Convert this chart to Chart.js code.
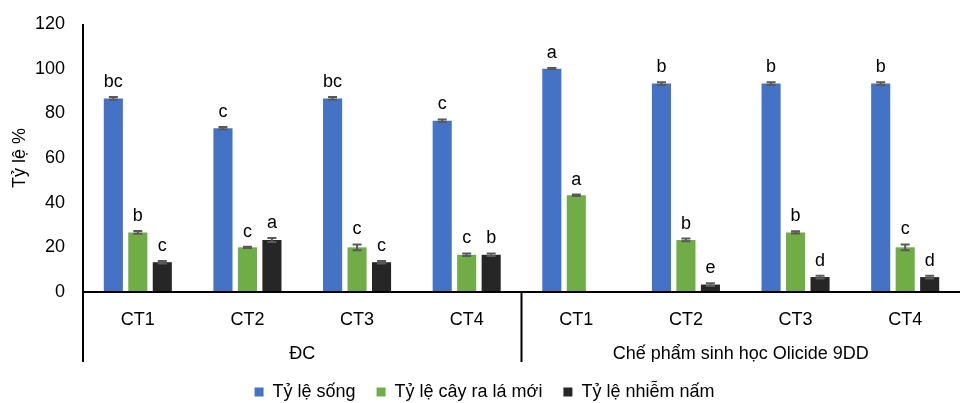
<!DOCTYPE html>
<html>
<head>
<meta charset="utf-8">
<script src="https://cdn.jsdelivr.net/npm/chart.js@4/dist/chart.umd.min.js"></script>
<style>
  html, body { margin: 0; padding: 0; background: #fff; }
  #wrap { width: 960px; height: 403px; }
</style>
</head>
<body>
<div id="wrap"><canvas id="c" width="960" height="403"></canvas></div>
<script>
const categories = ['CT1', 'CT2', 'CT3', 'CT4', 'CT1', 'CT2', 'CT3', 'CT4'];
const groups = ['ĐC', 'Chế phẩm sinh học Olicide 9DD'];
const seriesNames = ['Tỷ lệ sống', 'Tỷ lệ cây ra lá mới', 'Tỷ lệ nhiễm nấm'];

const songValues   = [86.67, 73.33, 86.67, 76.67, 100, 93.33, 93.33, 93.33];
const laMoiValues  = [26.67, 20.0, 20.0, 16.67, 43.33, 23.33, 26.67, 20.0];
const namValues    = [13.33, 23.33, 13.33, 16.67, 0, 3.33, 6.67, 6.67];

const songErrors   = [0.6, 0.6, 0.6, 0.6, 0.3, 0.6, 0.6, 0.6];
const laMoiErrors  = [0.6, 0.3, 1.3, 0.6, 0.3, 0.6, 0.5, 1.3];
const namErrors    = [0.6, 0.9, 0.6, 0.6, 0, 0.6, 0.6, 0.6];

const songLetters  = ['bc', 'c', 'bc', 'c', 'a', 'b', 'b', 'b'];
const laMoiLetters = ['b', 'c', 'c', 'c', 'a', 'b', 'b', 'c'];
const namLetters   = ['c', 'a', 'c', 'b', '', 'e', 'd', 'd'];

const yTicks = [0, 20, 40, 60, 80, 100, 120];

const FONT = "'Liberation Sans', Arial, sans-serif";

const errorPlugin = {
  id: 'errorAndLetters',
  afterDatasetsDraw(chart) {
    const ctx = chart.ctx;
    const y = chart.scales.y;
    chart.data.datasets.forEach((ds, di) => {
      const meta = chart.getDatasetMeta(di);
      meta.data.forEach((bar, i) => {
        const v = ds.data[i];
        const e = ds.errors[i];
        const x = bar.x;
        const top = y.getPixelForValue(v + e);
        const bot = y.getPixelForValue(v - e);
        ctx.save();
        if (v > 0) {
          ctx.strokeStyle = '#595959';
          ctx.lineWidth = 2;
          ctx.beginPath();
          ctx.moveTo(x - 4.5, top); ctx.lineTo(x + 4.5, top);
          ctx.moveTo(x - 4.5, bot); ctx.lineTo(x + 4.5, bot);
          ctx.moveTo(x, top); ctx.lineTo(x, bot);
          ctx.stroke();
        }
        const letter = ds.letters[i];
        if (letter) {
          ctx.fillStyle = '#000';
          ctx.font = '18px ' + FONT;
          ctx.textAlign = 'center';
          ctx.textBaseline = 'bottom';
          ctx.fillText(letter, x, top - 6);
        }
        ctx.restore();
      });
    });
  }
};

const linesPlugin = {
  id: 'groupLines',
  afterDraw(chart) {
    const ctx = chart.ctx;
    const x = chart.scales.x;
    const area = chart.chartArea;
    const bottom = 362;
    const mid = (x.getPixelForValue(3) + x.getPixelForValue(4)) / 2;
    ctx.save();
    ctx.strokeStyle = '#000';
    ctx.lineWidth = 2;
    ctx.beginPath();
    ctx.moveTo(area.left, area.top); ctx.lineTo(area.left, bottom);
    ctx.moveTo(mid, area.bottom); ctx.lineTo(mid, bottom);
    ctx.moveTo(area.left, area.bottom); ctx.lineTo(area.right, area.bottom);
    ctx.stroke();
    ctx.restore();
  }
};

new Chart(document.getElementById('c'), {
  type: 'bar',
  data: {
    labels: categories,
    datasets: [
      { label: seriesNames[0], data: songValues, errors: songErrors, letters: songLetters, backgroundColor: '#4472C4' },
      { label: seriesNames[1], data: laMoiValues, errors: laMoiErrors, letters: laMoiLetters, backgroundColor: '#70AD47' },
      { label: seriesNames[2], data: namValues, errors: namErrors, letters: namLetters, backgroundColor: '#262626' }
    ]
  },
  options: {
    responsive: false,
    animation: false,
    categoryPercentage: 0.67,
    barPercentage: 0.78,
    layout: { padding: { left: 9, right: 0, top: 24, bottom: 0 } },
    plugins: {
      legend: {
        position: 'bottom',
        maxHeight: 41,
        labels: {
          boxWidth: 9, boxHeight: 9, padding: 21,
          color: '#000',
          font: { family: FONT, size: 18 }
        }
      },
      tooltip: { enabled: false }
    },
    scales: {
      x: {
        type: 'category',
        grid: { display: false },
        border: { display: false },
        ticks: { color: '#000', font: { family: FONT, size: 18 }, padding: 9 },
        afterFit(s) { s.height = 40; }
      },
      x2: {
        type: 'category',
        labels: groups,
        position: 'bottom',
        offset: true,
        grid: { display: false },
        border: { display: false },
        ticks: { color: '#000', font: { family: FONT, size: 18 }, padding: 3 },
        afterFit(s) { s.height = 30; }
      },
      y: {
        min: 0, max: 120,
        afterBuildTicks(s) { s.ticks = yTicks.map(v => ({ value: v })); },
        grid: { display: false },
        border: { display: false },
        ticks: { color: '#000', font: { family: FONT, size: 18 }, padding: 10 },
        title: { display: true, text: 'Tỷ lệ %', color: '#000', font: { family: FONT, size: 18 }, padding: 0 },
        afterFit(s) { s.width = 74; }
      }
    }
  },
  plugins: [errorPlugin, linesPlugin]
});
</script>
</body>
</html>
